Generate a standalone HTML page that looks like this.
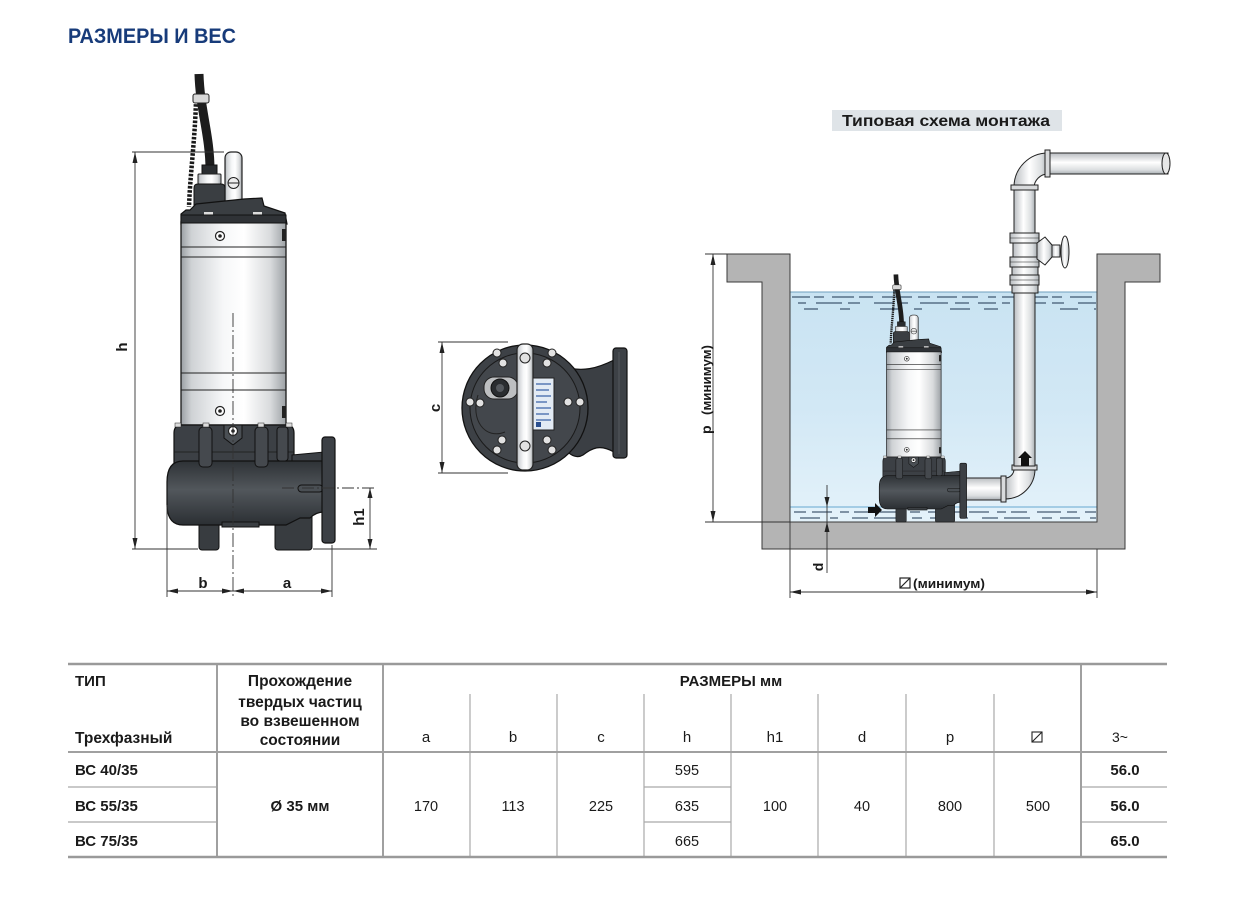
<!DOCTYPE html>
<html><head><meta charset="utf-8">
<style>
html,body{margin:0;padding:0;background:#fff;}
svg{display:block;}
text{font-family:"Liberation Sans","Noto Sans CJK SC",sans-serif;fill:#1a1a1a;}
.b{font-weight:bold;}
</style></head><body>
<svg width="1239" height="908" viewBox="0 0 1239 908" xmlns="http://www.w3.org/2000/svg">
<defs>
<linearGradient id="steel" x1="0" x2="1" y1="0" y2="0">
 <stop offset="0" stop-color="#9a9fa4"/><stop offset="0.1" stop-color="#cfd2d5"/>
 <stop offset="0.4" stop-color="#f6f7f8"/><stop offset="0.6" stop-color="#ffffff"/>
 <stop offset="0.85" stop-color="#d9dbdd"/><stop offset="1" stop-color="#9ca1a5"/>
</linearGradient>
<linearGradient id="dark" x1="0" x2="0" y1="0" y2="1">
 <stop offset="0" stop-color="#2e3236"/><stop offset="0.45" stop-color="#52575c"/><stop offset="1" stop-color="#2b2f33"/>
</linearGradient>
<linearGradient id="pipeV" x1="0" x2="1" y1="0" y2="0">
 <stop offset="0" stop-color="#b9bdc1"/><stop offset="0.45" stop-color="#ffffff"/><stop offset="0.8" stop-color="#dcdfe1"/><stop offset="1" stop-color="#aab0b4"/>
</linearGradient>
<linearGradient id="pipeH" x1="0" x2="0" y1="0" y2="1">
 <stop offset="0" stop-color="#b9bdc1"/><stop offset="0.45" stop-color="#ffffff"/><stop offset="0.8" stop-color="#dcdfe1"/><stop offset="1" stop-color="#aab0b4"/>
</linearGradient>
<linearGradient id="water" x1="0" x2="0" y1="0" y2="1">
 <stop offset="0" stop-color="#c9e3f2"/><stop offset="0.5" stop-color="#d2e8f5"/><stop offset="1" stop-color="#e4f2fa"/>
</linearGradient>
<g id="pump">
 <path d="M196,100 C195,140 190,175 189,207" stroke="#1a1a1a" stroke-width="4.5" stroke-dasharray="2.6 1.5" fill="none"/>
 <path d="M199,74 C200,110 210,135 210,170" stroke="#1d1d1d" stroke-width="9" fill="none"/>
 <rect x="193" y="94" width="16" height="9" rx="2" fill="#d8d8d8" stroke="#222"/>
 <rect x="225" y="152" width="17" height="56" rx="6" fill="url(#steel)" stroke="#222" stroke-width="1.2"/>
 <circle cx="233.5" cy="183" r="5.5" fill="#eee" stroke="#222"/>
 <path d="M228,183 h11" stroke="#222"/>
 <rect x="202" y="165" width="15" height="10" fill="#2a2d30" stroke="#111"/>
 <rect x="198" y="174" width="23" height="10" rx="1" fill="url(#steel)" stroke="#222"/>
 <path d="M194,205 L194,188 Q194,184 198,184 L221,184 Q225,184 225,188 L225,205 Z" fill="#3a3e42" stroke="#111"/>
 <path d="M181,224 L181,214 L186,210 L190,210 L196,204 L244,199 L262,198 L264,206 L285,213 L287,224 Z" fill="#3a3e42" stroke="#111" stroke-width="1.2"/>
 <rect x="204" y="212" width="9" height="4" fill="#ddd"/>
 <rect x="253" y="212" width="9" height="4" fill="#ddd"/>
 <rect x="181" y="222" width="105" height="203" fill="url(#steel)" stroke="#1a1a1a" stroke-width="1.3"/>
 <rect x="181" y="215" width="105" height="8" fill="#2f3236" stroke="#111"/>
 <path d="M181,247 H286 M181,257 H286 M181,373 H286 M181,390 H286" stroke="#222" stroke-width="1.1"/>
 <circle cx="220" cy="236" r="4.5" fill="#fff" stroke="#222" stroke-width="1.2"/><circle cx="220" cy="236" r="1.8" fill="#222"/>
 <circle cx="220" cy="411" r="4.5" fill="#fff" stroke="#222" stroke-width="1.2"/><circle cx="220" cy="411" r="1.8" fill="#222"/>
 <rect x="282" y="229" width="4" height="12" fill="#222"/>
 <rect x="282" y="406" width="4" height="12" fill="#222"/>
 <rect x="199" y="512" width="20" height="38" rx="3" fill="#383c40" stroke="#111"/>
 <rect x="275" y="512" width="37" height="38" rx="3" fill="#383c40" stroke="#111"/>
 <path d="M174,463 L174,433 Q174,426 180,425 L288,425 Q294,426 294,433 L294,463 Z" fill="#3c4045" stroke="#111" stroke-width="1.2"/>
 <path d="M292,455 L324,452 L324,512 L292,512 Z" fill="#3c4045" stroke="#111"/>
 <path d="M183,461 L324,461 L324,512 Q316,512 310,518 L300,518 L286,525 L183,525 Q167,525 167,504 L167,482 Q167,461 183,461 Z" fill="url(#dark)" stroke="#111" stroke-width="1.2"/>
 <path d="M174,452 H294" stroke="#1a1a1a" stroke-width="0.8"/>
 <rect x="199" y="427" width="13" height="40" rx="4" fill="#45494e" stroke="#111"/>
 <rect x="255" y="427" width="13" height="40" rx="4" fill="#45494e" stroke="#111"/>
 <rect x="277" y="427" width="11" height="34" rx="3" fill="#45494e" stroke="#111"/>
 <path d="M224,425 L242,425 L242,438 L233,445 L224,438 Z" fill="#4a4f54" stroke="#111"/>
 <circle cx="233" cy="431" r="4.5" fill="#fff" stroke="#222" stroke-width="1.2"/><circle cx="233" cy="431" r="1.8" fill="#222"/>
 <rect x="175" y="423" width="6" height="4" fill="#ddd" stroke="#222" stroke-width="0.5"/>
 <rect x="203" y="423" width="6" height="4" fill="#ddd" stroke="#222" stroke-width="0.5"/>
 <rect x="258" y="423" width="6" height="4" fill="#ddd" stroke="#222" stroke-width="0.5"/>
 <rect x="286" y="423" width="6" height="4" fill="#ddd" stroke="#222" stroke-width="0.5"/>
 <rect x="222" y="522" width="37" height="5" fill="#3a3e42" stroke="#111"/>
 <rect x="298" y="485" width="25" height="7" rx="3.5" fill="#4a4f54" stroke="#111"/>
 <rect x="322" y="437" width="13" height="106" rx="3" fill="#3c4045" stroke="#111" stroke-width="1.2"/>
</g>
</defs>

<!-- Title -->
<text x="68" y="43" class="b" font-size="21" textLength="168" lengthAdjust="spacingAndGlyphs" style="fill:#173b7a">РАЗМЕРЫ И ВЕС</text>

<!-- LEFT PUMP -->
<use href="#pump"/>
<g stroke="#333" stroke-width="0.9" fill="none">
 <path d="M233,313 V597" stroke-dasharray="14 3 2 3"/>
 <path d="M132,152 H224 M132,549 H198 M313,549 H377 M135,152 V549"/>
 <path d="M282,488 H377" stroke-dasharray="12 3 2 3"/>
 <path d="M370,488 V549"/>
 <path d="M167,505 V597 M332,545 V597 M167,591 H332"/>
</g>
<g fill="#222">
 <polygon points="135,152 132.5,163 137.5,163"/><polygon points="135,549 132.5,538 137.5,538"/>
 <polygon points="370,488 367.5,498 372.5,498"/><polygon points="370,549 367.5,539 372.5,539"/>
 <polygon points="167,591 178,588.5 178,593.5"/><polygon points="233,591 222,588.5 222,593.5"/>
 <polygon points="233,591 244,588.5 244,593.5"/><polygon points="332,591 321,588.5 321,593.5"/>
</g>
<text class="b" font-size="15" text-anchor="middle" transform="translate(127,347) rotate(-90)">h</text>
<text class="b" font-size="15" text-anchor="middle" transform="translate(364,517) rotate(-90)">h1</text>
<text class="b" font-size="15" text-anchor="middle" x="203" y="588">b</text>
<text class="b" font-size="15" text-anchor="middle" x="287" y="588">a</text>

<!-- TOP VIEW -->
<path d="M562,366 C582,373 598,368 614,360 L614,452 C600,444 592,448 583,455 C575,460 566,452 562,445 Z" fill="#3b3f44" stroke="#111" stroke-width="1.2"/>
<rect x="613" y="348" width="14" height="110" rx="3" fill="#3d4146" stroke="#111" stroke-width="1.2"/>
<path d="M619,352 V454" stroke="#55595e" stroke-width="1"/>
<circle cx="525" cy="408" r="63" fill="#3d4146" stroke="#111" stroke-width="1.3"/>
<circle cx="525" cy="408" r="55" fill="#43474c" stroke="#1a1a1a" stroke-width="1"/>
<path d="M478,395 C470,420 485,440 505,432" stroke="#222" fill="none"/>
<rect x="484" y="377" width="34" height="22" rx="10" fill="#bdbfc1" stroke="#222"/>
<circle cx="500" cy="388" r="9" fill="#2a2d30" stroke="#111"/>
<circle cx="500" cy="388" r="4" fill="#55595e"/>
<rect x="517" y="344" width="16" height="126" rx="6" fill="url(#steel)" stroke="#222" stroke-width="1.2"/>
<rect x="533" y="378" width="21" height="52" fill="#e3ebf4" stroke="#222"/>
<g stroke="#3b64a8" stroke-width="1.2">
 <path d="M536,384 H551 M536,390 H549 M536,396 H551 M536,402 H547 M536,408 H551 M536,414 H549 M536,420 H551"/>
</g>
<rect x="536" y="422" width="5" height="5" fill="#2a4f8f"/>
<g fill="#e2e2e2" stroke="#222" stroke-width="1">
 <circle cx="525" cy="358" r="5"/><circle cx="525" cy="446" r="5"/>
 <circle cx="497" cy="353" r="4"/><circle cx="503" cy="363" r="4"/>
 <circle cx="552" cy="353" r="4"/><circle cx="547" cy="363" r="4"/>
 <circle cx="470" cy="402" r="4"/><circle cx="480" cy="403" r="4"/>
 <circle cx="568" cy="402" r="4"/><circle cx="580" cy="402" r="4"/>
 <circle cx="497" cy="450" r="4"/><circle cx="502" cy="440" r="4"/>
 <circle cx="552" cy="450" r="4"/><circle cx="547" cy="440" r="4"/>
</g>
<g stroke="#333" stroke-width="0.9" fill="none">
 <path d="M438,342 H508 M438,473 H508 M442,342 V473"/>
</g>
<g fill="#222">
 <polygon points="442,342 439.5,353 444.5,353"/><polygon points="442,473 439.5,462 444.5,462"/>
</g>
<text class="b" font-size="15" text-anchor="middle" transform="translate(440,408) rotate(-90)">c</text>

<!-- INSTALLATION SCHEME -->
<rect x="832" y="110" width="230" height="21" fill="#dfe4e8"/>
<text class="b" font-size="15.5" x="842" y="126" textLength="208" lengthAdjust="spacingAndGlyphs">Типовая схема монтажа</text>

<rect x="790" y="292" width="307" height="230" fill="url(#water)"/>
<path d="M790,292 H1097" stroke="#6f9fbd" stroke-width="1"/>
<g stroke="#1d3550" stroke-width="1.1">
 <path d="M792,297 H1096" stroke-dasharray="18 4 10 8 22 5 14 9 30 6 12 7 20 5 16 10 8 6 24 4"/>
 <path d="M798,303 H1096" stroke-dasharray="8 10 26 6 12 14 20 5 9 12 28 7 14 9 18 6"/>
 <path d="M804,309 H1096" stroke-dasharray="14 22 10 30 18 16 8 28 20 14"/>
 <path d="M790,507 H1097" stroke="#8fc0de" stroke-width="1.5"/>
 <path d="M794,512 H1096" stroke-dasharray="12 6 20 8 9 5 16 10 24 6 10 8 18 5"/>
 <path d="M800,518 H1096" stroke-dasharray="20 10 8 14 16 6 26 12 10 8"/>
</g>
<polygon points="727,254 790,254 790,522 1097,522 1097,254 1160,254 1160,282 1125,282 1125,549 762,549 762,282 727,282" fill="#b4b4b4" stroke="#3a3a3a" stroke-width="1"/>

<!-- pipes -->
<rect x="966" y="478" width="39" height="22" fill="url(#pipeH)" stroke="#222"/>
<path d="M1005,478 A9,9 0 0 0 1014,469 L1035,469 A30,30 0 0 1 1005,499 Z" fill="url(#pipeV)" stroke="#222"/>
<rect x="1001" y="476" width="5" height="26" fill="#d8dadc" stroke="#222"/>
<rect x="1012" y="465" width="25" height="5" fill="#d8dadc" stroke="#222"/>
<rect x="1014" y="187" width="21" height="279" fill="url(#pipeV)" stroke="#222"/>
<path d="M1014,187 A34,34 0 0 1 1048,153 L1048,174 A14,14 0 0 0 1034,188 Z" fill="url(#pipeV)" stroke="#222"/>
<rect x="1011" y="185" width="27" height="5" fill="#d8dadc" stroke="#222"/>
<rect x="1048" y="153" width="120" height="21" fill="url(#pipeH)" stroke="#222"/>
<rect x="1045" y="150" width="5" height="27" fill="#d8dadc" stroke="#222"/>
<ellipse cx="1166" cy="163.5" rx="4" ry="10.5" fill="#e6e6e6" stroke="#222"/>
<g fill="url(#pipeV)" stroke="#222">
 <rect x="1010" y="233" width="29" height="10"/>
 <rect x="1013" y="243" width="24" height="14"/>
 <rect x="1010" y="257" width="29" height="10"/>
 <rect x="1012" y="267" width="26" height="8"/>
 <rect x="1010" y="275" width="29" height="10"/>
 <rect x="1012" y="285" width="26" height="8"/>
 <polygon points="1037,243 1045,237 1052,245 1052,257 1045,265 1037,259"/>
 <rect x="1052" y="245" width="8" height="12"/>
 <ellipse cx="1065" cy="252" rx="4" ry="16"/>
</g>
<path d="M1010,238 H1039 M1010,262 H1039 M1010,280 H1039" stroke="#222" stroke-width="0.6"/>
<polygon points="1025,451 1032,458 1029,458 1029,466 1021,466 1021,458 1018,458" fill="#111"/>

<!-- small pump -->
<use href="#pump" transform="translate(792.4,236) scale(0.52)"/>
<polygon points="868,507 875,507 875,503 882,510 875,517 875,513 868,513" fill="#111"/>

<!-- scheme dimensions -->
<g stroke="#333" stroke-width="0.9" fill="none">
 <path d="M705,254 H727 M705,522 H790 M713,254 V522"/>
 <path d="M827,485 V573"/>
 <path d="M790,522 V598 M1097,549 V598 M790,592 H1097"/>
</g>
<g fill="#222">
 <polygon points="713,254 710.5,265 715.5,265"/><polygon points="713,522 710.5,511 715.5,511"/>
 <polygon points="827,507 824.5,497 829.5,497"/><polygon points="827,522 824.5,532 829.5,532"/>
 <polygon points="790,592 801,589.5 801,594.5"/><polygon points="1097,592 1086,589.5 1086,594.5"/>
</g>
<text class="b" font-size="14" transform="translate(711,434) rotate(-90)">p</text>
<text class="b" font-size="13" transform="translate(711,415) rotate(-90)" textLength="70" lengthAdjust="spacingAndGlyphs">(минимум)</text>
<text class="b" font-size="14" text-anchor="middle" transform="translate(823,567) rotate(-90)">d</text>
<rect x="900" y="578" width="10" height="10" fill="none" stroke="#222" stroke-width="1.2"/>
<path d="M900,588 L910,578" stroke="#222" stroke-width="1.2"/>
<text class="b" font-size="13" x="913" y="588" textLength="72" lengthAdjust="spacingAndGlyphs">(минимум)</text>

<!-- TABLE -->
<g stroke="#a9a9a9" stroke-width="1.2">
 <path d="M470,694 V857 M557,694 V857 M644,694 V857 M731,694 V857 M818,694 V857 M906,694 V857 M994,694 V857"/>
 <path d="M68,787 H217 M68,822 H217 M644,787 H731 M644,822 H731 M1081,787 H1167 M1081,822 H1167"/>
</g>
<g stroke="#a0a0a0" stroke-width="2">
 <path d="M217,664 V857 M383,664 V857 M1081,664 V857"/>
 <path d="M68,752 H1167"/>
</g>
<g stroke="#9a9a9a" stroke-width="2.5">
 <path d="M68,664 H1167 M68,857 H1167"/>
</g>
<text class="b" font-size="15" x="75" y="686">ТИП</text>
<text class="b" font-size="15.5" x="75" y="743">Трехфазный</text>
<g class="b" font-size="15.5" text-anchor="middle">
 <text x="300" y="686" class="b">Прохождение</text>
 <text x="300" y="707" class="b">твердых частиц</text>
 <text x="300" y="726" class="b">во взвешенном</text>
 <text x="300" y="745" class="b">состоянии</text>
 <text x="731" y="686" class="b" font-size="15">РАЗМЕРЫ мм</text>
</g>
<g font-size="15" text-anchor="middle">
 <text x="426" y="742">a</text><text x="513" y="742">b</text><text x="601" y="742">c</text>
 <text x="687" y="742">h</text><text x="775" y="742">h1</text><text x="862" y="742">d</text>
 <text x="950" y="742">p</text><text x="1120" y="742" font-size="14">3~</text>
</g>
<rect x="1032" y="732" width="10" height="10" fill="none" stroke="#222" stroke-width="1.1"/>
<path d="M1032,742 L1042,732" stroke="#222" stroke-width="1.1"/>
<g class="b" font-size="15">
 <text x="75" y="775" class="b">ВС 40/35</text>
 <text x="75" y="811" class="b">ВС 55/35</text>
 <text x="75" y="846" class="b">ВС 75/35</text>
 <text x="300" y="811" class="b" text-anchor="middle">Ø 35 мм</text>
 <text x="1125" y="775" class="b" text-anchor="middle">56.0</text>
 <text x="1125" y="811" class="b" text-anchor="middle">56.0</text>
 <text x="1125" y="846" class="b" text-anchor="middle">65.0</text>
</g>
<g font-size="14.5" text-anchor="middle">
 <text x="426" y="811">170</text><text x="513" y="811">113</text><text x="601" y="811">225</text>
 <text x="687" y="775">595</text><text x="687" y="811">635</text><text x="687" y="846">665</text>
 <text x="775" y="811">100</text><text x="862" y="811">40</text><text x="950" y="811">800</text><text x="1038" y="811">500</text>
</g>
</svg>
</body></html>
